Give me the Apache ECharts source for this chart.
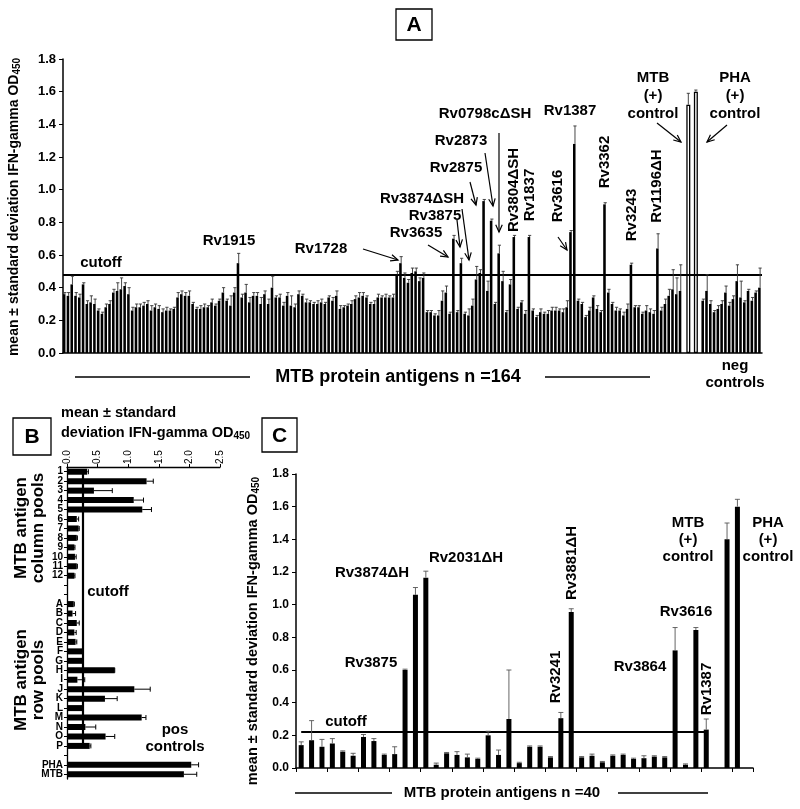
<!DOCTYPE html>
<html><head><meta charset="utf-8">
<script src="https://cdn.jsdelivr.net/npm/echarts@6/dist/echarts.min.js"></script>
<style>html,body{margin:0;padding:0;background:#fff}#c{width:800px;height:809px}</style>
</head><body><div id="c"></div>
<script>
// ---------- Panel A data ----------
const aAntigenValues = [
0.36,0.35,0.42,0.35,0.34,0.42,0.30,0.31,0.30,0.26,
0.24,0.28,0.30,0.37,0.38,0.39,0.41,0.36,0.26,0.28,
0.28,0.29,0.30,0.26,0.28,0.27,0.25,0.26,0.26,0.27,
0.34,0.36,0.35,0.35,0.30,0.27,0.27,0.28,0.28,0.31,
0.29,0.32,0.37,0.32,0.29,0.37,0.55,0.34,0.37,0.31,
0.35,0.35,0.30,0.36,0.30,0.40,0.34,0.34,0.29,0.35,
0.29,0.28,0.36,0.35,0.31,0.31,0.30,0.30,0.31,0.30,
0.34,0.32,0.35,0.27,0.28,0.29,0.30,0.33,0.34,0.35,
0.34,0.30,0.30,0.34,0.34,0.34,0.34,0.34,0.48,0.55,
0.46,0.43,0.49,0.50,0.44,0.46,0.25,0.25,0.23,0.23,
0.32,0.37,0.24,0.70,0.25,0.55,0.24,0.23,0.29,0.45,
0.49,0.93,0.38,0.81,0.30,0.61,0.44,0.25,0.42,0.71,
0.27,0.31,0.24,0.71,0.26,0.22,0.25,0.24,0.24,0.26,
0.26,0.26,0.25,0.28,0.74,1.28,0.32,0.30,0.22,0.26,
0.34,0.27,0.25,0.91,0.37,0.30,0.26,0.26,0.23,0.27,
0.54,0.28,0.28,0.24,0.26,0.25,0.24,0.64,0.26,0.30,
0.35,0.39,0.36,0.38];
const aAntigenErrors = [
0.01,0.02,0.05,0.02,0.02,0.01,0.02,0.04,0.03,0.01,
0.01,0.02,0.02,0.02,0.05,0.07,0.02,0.04,0.02,0.02,
0.02,0.02,0.02,0.03,0.02,0.02,0.02,0.02,0.01,0.01,
0.03,0.02,0.02,0.03,0.01,0.01,0.02,0.02,0.01,0.02,
0.01,0.01,0.03,0.01,0.06,0.03,0.06,0.02,0.05,0.03,
0.02,0.02,0.04,0.02,0.03,0.07,0.01,0.02,0.02,0.02,
0.06,0.02,0.02,0.01,0.02,0.01,0.01,0.02,0.02,0.01,
0.01,0.02,0.03,0.02,0.01,0.01,0.02,0.02,0.03,0.02,
0.01,0.01,0.02,0.02,0.01,0.02,0.01,0.02,0.02,0.04,
0.03,0.02,0.03,0.02,0.02,0.03,0.01,0.01,0.01,0.03,
0.06,0.04,0.01,0.02,0.01,0.03,0.01,0.04,0.04,0.08,
0.02,0.01,0.06,0.01,0.01,0.05,0.06,0.01,0.03,0.01,
0.01,0.01,0.02,0.01,0.01,0.01,0.02,0.01,0.02,0.02,
0.02,0.01,0.02,0.04,0.01,0.11,0.01,0.01,0.01,0.02,
0.01,0.02,0.01,0.01,0.02,0.01,0.02,0.01,0.02,0.03,
0.01,0.01,0.01,0.01,0.03,0.02,0.02,0.09,0.02,0.03,
0.04,0.12,0.10,0.16];
const aControlNames = ['MTB', 'PHA'];
const aControlValues = [1.52, 1.60];
const aControlErrors = [0.07, 0.01];
const aNegValues = [0.32,0.38,0.30,0.25,0.27,0.30,0.37,0.29,0.33,0.44,0.34,0.31,0.38,0.32,0.37,0.40];
const aNegErrors = [0.01,0.10,0.02,0.01,0.02,0.02,0.04,0.02,0.02,0.10,0.10,0.01,0.01,0.02,0.01,0.12];
const aCutoff = 0.48;
const aYTicks = [0,0.2,0.4,0.6,0.8,1.0,1.2,1.4,1.6,1.8];

// ---------- Panel B data ----------
const bCategories = ['1','2','3','4','5','6','7','8','9','10','11','12','','',
  'A','B','C','D','E','F','G','H','I','J','K','L','M','N','O','P','','PHA','MTB'];
const bValues = [0.33,1.30,0.44,1.09,1.23,0.16,0.19,0.16,0.12,0.13,0.16,0.12,'-','-',
  0.11,0.09,0.16,0.12,0.14,0.25,0.25,0.78,0.17,1.10,0.62,0.25,1.22,0.30,0.63,0.37,'-',2.03,1.91];
const bErrors = [0.02,0.11,0.30,0.16,0.15,0.03,0.01,0.01,0.01,0.02,0.01,0.01,'-','-',
  0.01,0.05,0.04,0.03,0.02,0,0,0,0.12,0.26,0.20,0,0.07,0.17,0.15,0.02,'-',0.12,0.21];
const bCutoff = 0.26;
const bXTicks = [0,0.5,1.0,1.5,2.0,2.5];

// ---------- Panel C data ----------
const cValues = [0.14,0.17,0.13,0.15,0.10,0.075,0.19,0.165,0.08,0.085,
  0.60,1.06,1.165,0.02,0.09,0.08,0.065,0.055,0.20,0.08,
  0.30,0.03,0.13,0.13,0.065,0.305,0.955,0.065,0.075,0.035,
  0.075,0.08,0.055,0.06,0.07,0.065,0.72,0.02,0.845,0.235,
  '-',1.40,1.60,'-'];
const cErrors = [0.02,0.12,0.045,0.03,0.005,0.015,0.015,0.015,0.005,0.045,
  0.005,0.045,0.04,0.01,0.005,0.02,0.02,0.005,0.025,0.03,
  0.30,0.005,0.005,0.005,0.005,0.035,0.02,0.005,0.01,0.005,
  0.005,0.005,0.005,0.015,0.005,0.005,0.14,0.005,0.015,0.065,
  '-',0.10,0.045,'-'];
const cCutoff = 0.22;
const cAntigenCount = 40;

// ---------- build ----------
const FONT = '"Liberation Sans", Arial, sans-serif';
const aCats = [], aBarVals = [], aCtrlVals = [], aErrData = [];
aAntigenValues.forEach((v,i)=>{aCats.push('Ag'+(i+1)); aBarVals.push(v); aCtrlVals.push('-');});
aCats.push('gap1'); aBarVals.push('-'); aCtrlVals.push('-');
aControlNames.forEach((n,k)=>{
  aCats.push(n); aBarVals.push('-'); aCtrlVals.push(aControlValues[k]);
  aCats.push('gap'+(k+2)); aBarVals.push('-'); aCtrlVals.push('-');
});
aNegValues.forEach((v,i)=>{aCats.push('Neg'+(i+1)); aBarVals.push(v); aCtrlVals.push('-');});
(function(){
  let idx=0;
  aAntigenValues.forEach((v,i)=>{aErrData.push([idx, v, aAntigenErrors[i]]); idx++;});
  idx++;
  aControlValues.forEach((v,k)=>{aErrData.push([idx, v, aControlErrors[k]]); idx+=2;});
  aNegValues.forEach((v,i)=>{aErrData.push([idx, v, aNegErrors[i]]); idx++;});
})();
const bErrData = [];
bValues.forEach((v,i)=>{ if(v!=='-') bErrData.push([v, i, bErrors[i]]); });
const cCats = cValues.map((v,i)=>'c'+i);
const cErrData = [];
cValues.forEach((v,i)=>{ if(v!=='-') cErrData.push([i, v, cErrors[i]]); });

function vErr(color, cap, lw){
  return function(params, api){
    const x = api.value(0), v = api.value(1), e = api.value(2);
    const p0 = api.coord([x, v]), p1 = api.coord([x, v+e]);
    return {type:'group', children:[
      {type:'line', shape:{x1:p0[0],y1:p0[1],x2:p1[0],y2:p1[1]}, style:{stroke:color,lineWidth:lw}},
      {type:'line', shape:{x1:p1[0]-cap,y1:p1[1],x2:p1[0]+cap,y2:p1[1]}, style:{stroke:color,lineWidth:lw}}
    ]};
  };
}
function hErr(color, cap, lw){
  return function(params, api){
    const v = api.value(0), y = api.value(1), e = api.value(2);
    const p0 = api.coord([v, y]), p1 = api.coord([v+e, y]);
    return {type:'group', children:[
      {type:'line', shape:{x1:p0[0],y1:p0[1],x2:p1[0],y2:p1[1]}, style:{stroke:color,lineWidth:lw}},
      {type:'line', shape:{x1:p1[0],y1:p1[1]-cap,x2:p1[0],y2:p1[1]+cap}, style:{stroke:color,lineWidth:lw}}
    ]};
  };
}

const G = [];
function txt(x, y, text, size, opts){
  opts = opts || {};
  const el = {type:'text', z:100, x:x, y:y, rotation: opts.rot||0,
    style:{text:text, x:0, y:0, fill:'#000', font:'bold '+size+'px '+FONT,
      textAlign: opts.align||'center', textVerticalAlign:'middle', lineHeight: opts.lh||size*1.2}};
  if(opts.rich){ el.style.rich = opts.rich; el.style.fontWeight='bold'; el.style.fontSize=size; el.style.fontFamily=FONT; delete el.style.font; }
  G.push(el);
}
function line(x1,y1,x2,y2,w){
  G.push({type:'line', z:100, shape:{x1,y1,x2,y2}, style:{stroke:'#000', lineWidth:w||1.5}});
}
function arrow(x1,y1,x2,y2){
  const ang = Math.atan2(y2-y1, x2-x1), L=8, a=0.42;
  const h1=[x2-L*Math.cos(ang-a), y2-L*Math.sin(ang-a)], h2=[x2-L*Math.cos(ang+a), y2-L*Math.sin(ang+a)];
  G.push({type:'line', z:100, shape:{x1,y1,x2,y2}, style:{stroke:'#000',lineWidth:1.2}});
  G.push({type:'polyline', z:100, shape:{points:[h1,[x2,y2],h2]}, style:{stroke:'#000',lineWidth:1.2, fill:null}});
}
function box(x,y,w,h,letter){
  G.push({type:'rect', z:100, shape:{x,y,width:w,height:h}, style:{stroke:'#000', lineWidth:1.3, fill:'#fff'}});
  txt(x+w/2, y+h/2+1, letter, 21);
}
const R90 = Math.PI/2;
const subRich = (s)=>({n:{fontSize:s, fontWeight:'bold', fontFamily:FONT}, s:{fontSize:Math.round(s*0.68), fontWeight:'bold', fontFamily:FONT, padding:[Math.round(s*0.45),0,0,0]}});

// Panel A texts
box(396, 9, 36, 31, 'A');
txt(14, 207, '{n|mean ± standard deviation IFN-gamma OD}{s|450}', 14, {rot:R90, rich:subRich(14)});
txt(101, 263, 'cutoff', 15);
txt(229, 241, 'Rv1915', 15);
txt(321, 249, 'Rv1728', 15); arrow(363,249,398,260);
txt(416, 233, 'Rv3635', 15); arrow(428,245,448,257);
txt(435, 216, 'Rv3875', 15); arrow(457,220,460,247);
txt(422, 199, 'Rv3874ΔSH', 15); arrow(462,209,469,260);
txt(456, 168, 'Rv2875', 15); arrow(470,182,476,205);
txt(461, 141, 'Rv2873', 15); arrow(485,153,493,206);
txt(485, 114, 'Rv0798cΔSH', 15); arrow(499,133,499,232);
txt(514, 190, 'Rv3804ΔSH', 15, {rot:R90});
txt(530, 195, 'Rv1837', 15, {rot:R90});
txt(558, 196, 'Rv3616', 15, {rot:R90}); arrow(558,237,567,250);
txt(570, 111, 'Rv1387', 15);
txt(605, 162, 'Rv3362', 15, {rot:R90});
txt(632, 215, 'Rv3243', 15, {rot:R90});
txt(657, 186, 'Rv1196ΔH', 15, {rot:R90});
txt(653, 96, 'MTB\n(+)\ncontrol', 15, {lh:18}); arrow(657,123,681,142);
txt(735, 96, 'PHA\n(+)\ncontrol', 15, {lh:18}); arrow(727,125,707,142);
txt(735, 374, 'neg\ncontrols', 15, {lh:17});
txt(398, 377, 'MTB protein antigens n =164', 18);
line(75,377,250,377); line(545,377,650,377);

// Panel B texts
box(13, 418, 38, 37, 'B');
txt(61, 413, 'mean ± standard', 14.5, {align:'left'});
txt(61, 433, '{n|deviation IFN-gamma OD}{s|450}', 14.5, {align:'left', rich:subRich(14.5)});
txt(30, 528, 'MTB antigen\ncolumn pools', 17, {rot:R90, lh:17});
txt(30, 680, 'MTB antigen\nrow pools', 17, {rot:R90, lh:17});
txt(108, 592, 'cutoff', 15);
txt(175, 730, 'pos', 15);
txt(175, 747, 'controls', 15);

// Panel C texts
box(262, 418, 35, 34, 'C');
txt(253, 631, '{n|mean ± standard deviation IFN-gamma OD}{s|450}', 14.5, {rot:R90, rich:subRich(14.5)});
txt(372, 573, 'Rv3874ΔH', 15);
txt(466, 558, 'Rv2031ΔH', 15);
txt(371, 663, 'Rv3875', 15);
txt(346, 722, 'cutoff', 15);
txt(572, 563, 'Rv3881ΔH', 15, {rot:R90});
txt(556, 677, 'Rv3241', 15, {rot:R90});
txt(640, 667, 'Rv3864', 15);
txt(686, 612, 'Rv3616', 15);
txt(707, 689, 'Rv1387', 15, {rot:R90});
txt(688, 540, 'MTB\n(+)\ncontrol', 15, {lh:17});
txt(768, 540, 'PHA\n(+)\ncontrol', 15, {lh:17});
txt(502, 793, 'MTB protein antigens n =40', 15);
line(295,793,392,793); line(618,793,708,793);

const axisBlack = {lineStyle:{color:'#000', width:1.5}};
const option = {
  animation:false,
  backgroundColor:'#fff',
  textStyle:{fontFamily:FONT},
  grid:[
    {left:63, top:59, width:699, height:294},
    {left:67, top:467, width:153, height:312},
    {left:296, top:474, width:457, height:294}
  ],
  xAxis:[
    {gridIndex:0, type:'category', data:aCats, axisLine:axisBlack, axisTick:{show:false}, axisLabel:{show:false}},
    {gridIndex:1, type:'value', position:'top', min:0, max:2.5, interval:0.5, axisLine:{show:true, lineStyle:{color:'#000',width:1.3}},
      axisTick:{show:true, length:3, lineStyle:{color:'#000'}}, splitLine:{show:false},
      axisLabel:{rotate:-90, fontSize:10, color:'#000', margin:3, formatter:v=>v.toFixed(1)}},
    {gridIndex:2, type:'category', data:cCats, axisLine:axisBlack, axisTick:{show:true, length:4, lineStyle:{color:'#000'}}, axisLabel:{show:false}}
  ],
  yAxis:[
    {gridIndex:0, type:'value', min:0, max:1.8, interval:0.2, axisLine:{show:true, lineStyle:{color:'#000',width:1.5}},
      axisTick:{show:true, length:4, lineStyle:{color:'#000'}}, splitLine:{show:false},
      axisLabel:{color:'#000', fontWeight:'bold', fontSize:13, margin:7, formatter:v=>v.toFixed(1)}},
    {gridIndex:1, type:'category', data:bCategories, inverse:true, axisLine:{show:true, lineStyle:{color:'#000',width:1.3}},
      axisTick:{show:true, length:3, alignWithLabel:true, lineStyle:{color:'#000'}},
      axisLabel:{color:'#000', fontWeight:'bold', fontSize:10, margin:4, interval:0}},
    {gridIndex:2, type:'value', min:0, max:1.8, interval:0.2, axisLine:{show:true, lineStyle:{color:'#000',width:1.5}},
      axisTick:{show:true, length:4, lineStyle:{color:'#000'}}, splitLine:{show:false},
      axisLabel:{color:'#000', fontWeight:'bold', fontSize:12, margin:7, formatter:v=>v.toFixed(1)}}
  ],
  series:[
    {type:'bar', xAxisIndex:0, yAxisIndex:0, data:aBarVals, barWidth:'68%', itemStyle:{color:'#000'},
      markLine:{silent:true, symbol:'none', label:{show:false}, lineStyle:{color:'#000', width:2.2, type:'solid'}, data:[{yAxis:aCutoff}]}},
    {type:'bar', xAxisIndex:0, yAxisIndex:0, data:aCtrlVals, barWidth:4, barGap:'-100%',
      itemStyle:{color:'#fff', borderColor:'#000', borderWidth:1.3}},
    {type:'custom', xAxisIndex:0, yAxisIndex:0, data:aErrData, renderItem:vErr('#333',1.6,0.9), z:5},

    {type:'bar', xAxisIndex:1, yAxisIndex:1, data:bValues, barWidth:6, itemStyle:{color:'#000'},
      markLine:{silent:true, symbol:'none', label:{show:false}, lineStyle:{color:'#000', width:2.2, type:'solid'},
        data:[[{coord:[bCutoff, 0]},{coord:[bCutoff, 29]}]]}},
    {type:'custom', xAxisIndex:1, yAxisIndex:1, data:bErrData, renderItem:hErr('#000',2.5,1), z:5},

    {type:'bar', xAxisIndex:2, yAxisIndex:2, data:cValues, barWidth:5, itemStyle:{color:'#000'},
      markLine:{silent:true, symbol:'none', label:{show:false}, lineStyle:{color:'#000', width:2, type:'solid'},
        data:[[{coord:[0, cCutoff]},{coord:[cAntigenCount-1, cCutoff]}]]}},
    {type:'custom', xAxisIndex:2, yAxisIndex:2, data:cErrData, renderItem:vErr('#555',2.5,0.9), z:5}
  ],
  graphic:G
};
const chart = echarts.init(document.getElementById('c'), null, {renderer:'canvas'});
chart.setOption(option);
</script>
</body></html>
